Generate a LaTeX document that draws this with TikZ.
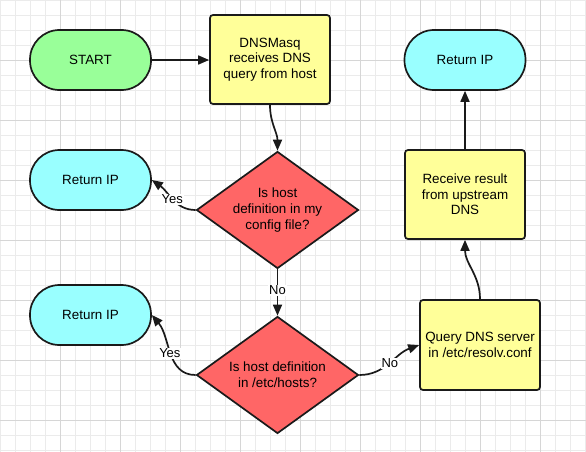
\documentclass[tikz,border=0pt]{standalone}
\usepackage{fontspec}
\setmainfont{Liberation Sans}
\usetikzlibrary{shapes.geometric,arrows.meta}
\definecolor{gminor}{HTML}{EBEBEB}
\definecolor{gmajor}{HTML}{D6D6D6}
\definecolor{cgreen}{HTML}{99FF99}
\definecolor{ccyan}{HTML}{99FFFF}
\definecolor{cyellow}{HTML}{FFFF99}
\definecolor{cred}{HTML}{FF6666}
\definecolor{cline}{HTML}{1A1A1A}
\begin{document}
\begin{tikzpicture}[x=1pt,y=1pt,
  base/.style={draw=cline,line width=1.7pt,text=black,font=\fontsize{13.4}{15.6}\selectfont,align=center,inner sep=0pt},
  term/.style={base,rectangle,rounded corners=29.5pt,minimum width=121pt,minimum height=60pt},
  proc/.style={base,rectangle,rounded corners=3pt,fill=cyellow,minimum width=120pt,minimum height=89pt},
  decision/.style={base,diamond,fill=cred,aspect=1.385,minimum width=162pt,minimum height=117pt},
  conn/.style={draw=cline,line width=1.7pt,-{Triangle[length=11pt,width=9pt]}},
  lbl/.style={fill=white,inner sep=1pt,font=\fontsize{13}{15}\selectfont}
]
\fill[white] (0,0) rectangle (586,-452);
\useasboundingbox (0,0) rectangle (586,-452);
\foreach \x in {0,15,...,585} \draw[gminor,line width=0.8pt] (\x,0) -- (\x,-452);
\foreach \y in {0,15,...,450} \draw[gminor,line width=0.8pt] (0,-\y) -- (586,-\y);
\foreach \x in {60,120,...,540} \draw[gmajor,line width=0.8pt] (\x,0) -- (\x,-452);
\foreach \y in {60,120,...,420} \draw[gmajor,line width=0.8pt] (0,-\y) -- (586,-\y);

\node[term,fill=cgreen] (start) at (90.5,-60) {START};
\node[proc] (dns) at (270,-59.5) {DNSMasq\\receives DNS\\query from host};
\node[term,fill=ccyan] (ret1) at (90.5,-180) {Return IP};
\node[decision] (d1) at (277.5,-210) {Is host\\definition in my\\config file?};
\node[term,fill=ccyan] (ret2) at (90.5,-315) {Return IP};
\node[decision] (d2) at (277.5,-375) {Is host definition\\in /etc/hosts?};
\node[proc,minimum height=90pt] (query) at (480,-345) {Query DNS server\\in /etc/resolv.conf};
\node[proc] (recv) at (465,-194.5) {Receive result\\from upstream\\DNS};
\node[term,fill=ccyan] (ret3) at (465,-60) {Return IP};

\draw[conn] (start.east) -- (start.east -| dns.west);
\draw[conn] (dns.south) to[out=-90,in=90] (d1.north);
\draw[conn] (d1.west) to[out=180,in=-35] node[lbl,pos=0.5] (y1) {Yes} (ret1.east);
\draw[conn] (d1.south) -- node[lbl,pos=0.45] (n1) {No} (d2.north);
\draw[conn] (d2.west) to[out=180,in=-50] node[lbl,pos=0.5] (y2) {Yes} (ret2.east);
\draw[conn] (d2.east) to[out=0,in=200] node[lbl,pos=0.5] (n2) {No} (query.west);
\draw[conn] (query.north) to[out=90,in=-90] (recv.south);
\draw[conn] (recv.north) -- (ret3.south);
\end{tikzpicture}
\end{document}
